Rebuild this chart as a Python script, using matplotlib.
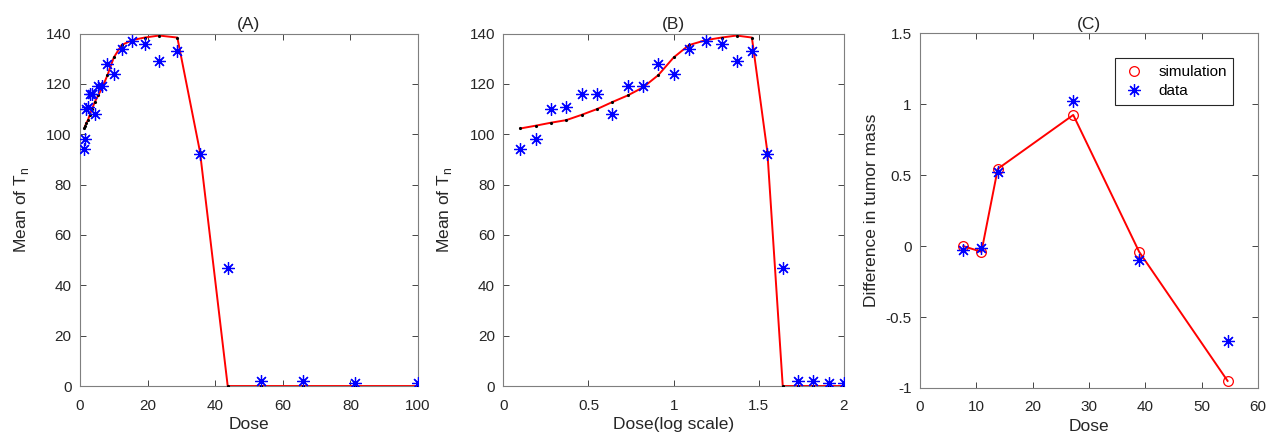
import matplotlib

matplotlib.use("Agg")
import matplotlib.pyplot as plt
import numpy as np

plt.rcParams["font.family"] = ["Liberation Sans", "DejaVu Sans"]
plt.rcParams["font.size"] = 11

# Panels A/B: dose levels, measured mean of T_n and the simulated curve
DOSE = [1.26, 1.55, 1.91, 2.34, 2.88, 3.55, 4.37, 5.37, 6.61, 8.13, 10.0,
        12.3, 15.5, 19.1, 23.4, 28.8, 35.5, 43.7, 53.7, 66.1, 81.3, 100.0]
MEAN_DATA = [94, 98, 110, 111, 116, 116, 108, 119, 119, 128, 124,
             134, 137, 136, 129, 133, 92, 47, 2, 2, 1, 1]
MEAN_SIM = [102.3, 103.4, 104.6, 105.6, 107.7, 110.0, 112.8, 115.4, 118.6, 123.5, 130.5,
            135.4, 137.4, 138.4, 139.2, 138.4, 93.0, 0, 0, 0, 0, 0]

# Panel C: difference in tumor mass
DOSE_C = [7.7, 10.9, 13.8, 27.2, 38.9, 54.6]
DIFF_SIM = [0.00, -0.04, 0.545, 0.925, -0.04, -0.95]
DIFF_DATA = [-0.03, -0.015, 0.52, 1.02, -0.10, -0.67]

GREY = "#262626"
ASTERISK = (8, 2, 0)
LABEL_FS = 12.5
TITLE_FS = 12.5


def style_axes(ax):
    ax.tick_params(direction="in", top=True, right=True, colors=GREY,
                   labelsize=11, length=4, width=0.6)
    ax.tick_params(axis="x", pad=9)
    ax.tick_params(axis="y", pad=6)
    for sp in ax.spines.values():
        sp.set_color("#7f7f7f")
        sp.set_linewidth(0.8)


def dose_panel(ax, x, title, xlabel, xlim, xticks):
    ax.plot(x, MEAN_SIM, color="#ff0000", linewidth=1.4, zorder=2)
    ax.plot(x, MEAN_SIM, linestyle="none", marker=".", color="black",
            markersize=2.5, zorder=3)
    ax.plot(x, MEAN_DATA, linestyle="none", marker=ASTERISK, color="#0000ff",
            markersize=9, markeredgewidth=0.9, zorder=4)
    ax.set_xlim(*xlim)
    ax.set_xticks(xticks)
    ax.set_ylim(0, 140)
    ax.set_yticks(range(0, 141, 20))
    ax.set_title(title, color=GREY, fontsize=TITLE_FS, pad=3)
    ax.set_xlabel(xlabel, color=GREY, fontsize=LABEL_FS, labelpad=3)
    ax.set_ylabel("Mean of T$_\\mathregular{n}$", color=GREY, fontsize=LABEL_FS,
                  labelpad=11)
    style_axes(ax)


fig = plt.figure(figsize=(12.72, 4.4), dpi=100)
ax_a = fig.add_axes([0.0629, 0.1227, 0.2657, 0.8011])
ax_b = fig.add_axes([0.3957, 0.1227, 0.2678, 0.8011])
ax_c = fig.add_axes([0.7233, 0.1182, 0.2657, 0.8059])

dose_panel(ax_a, DOSE, "(A)", "Dose", (0, 100), range(0, 101, 20))
dose_panel(ax_b, np.log10(DOSE), "(B)", "Dose(log scale)", (0, 2),
           [0, 0.5, 1, 1.5, 2])
ax_b.set_xticklabels(["0", "0.5", "1", "1.5", "2"])

ax_c.plot(DOSE_C, DIFF_SIM, color="#ff0000", linewidth=1.4, zorder=2)
ax_c.plot(DOSE_C, DIFF_SIM, linestyle="none", marker="o", markersize=7,
          markerfacecolor="none", markeredgecolor="#ff0000",
          markeredgewidth=0.9, label="simulation", zorder=3)
ax_c.plot(DOSE_C, DIFF_DATA, linestyle="none", marker=ASTERISK, color="#0000ff",
          markersize=9, markeredgewidth=0.9, label="data", zorder=4)
ax_c.set_xlim(0, 60)
ax_c.set_xticks(range(0, 61, 10))
ax_c.set_ylim(-1, 1.5)
ax_c.set_yticks([-1, -0.5, 0, 0.5, 1, 1.5])
ax_c.set_yticklabels(["-1", "-0.5", "0", "0.5", "1", "1.5"])
ax_c.set_title("(C)", color=GREY, fontsize=TITLE_FS, pad=3)
ax_c.set_xlabel("Dose", color=GREY, fontsize=LABEL_FS, labelpad=3)
ax_c.set_ylabel("Difference in tumor mass", color=GREY, fontsize=LABEL_FS,
                labelpad=5)
style_axes(ax_c)
leg = ax_c.legend(loc="upper right", fancybox=False, edgecolor=GREY,
                  fontsize=11, handlelength=1.6, borderpad=0.45,
                  labelspacing=0.3, bbox_to_anchor=(0.95, 0.951), framealpha=1)
leg.get_frame().set_linewidth(0.8)

fig.savefig("out.png", dpi=100)
